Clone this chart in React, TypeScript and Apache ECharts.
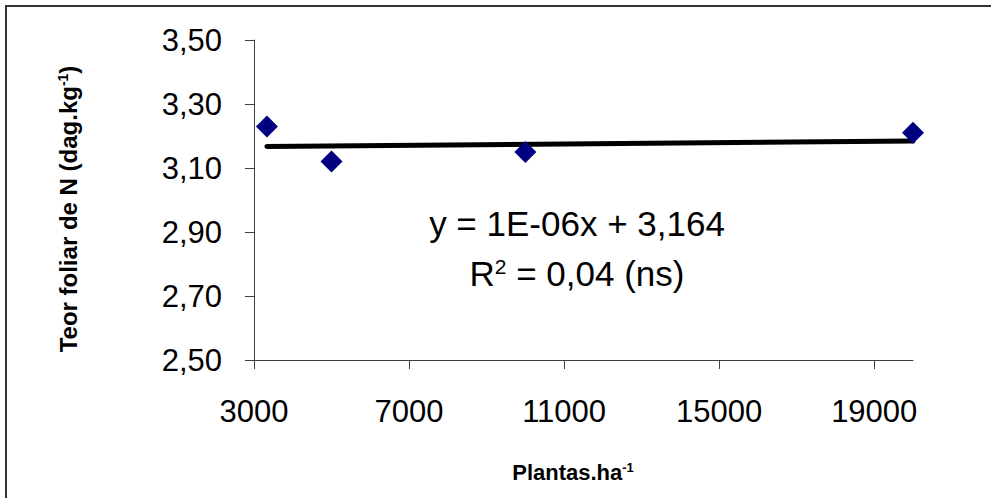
import React, { useEffect, useRef } from "react";
import * as echarts from "echarts";

// Data
const densities = [3333, 5000, 10000, 20000]; // Plantas.ha-1
const nitrogen = [3.23, 3.12, 3.15, 3.21]; // Teor foliar de N (dag.kg-1)
const trendSlope = 1e-6;
const trendIntercept = 3.164;
const xTickValues = [3000, 7000, 11000, 15000, 19000];
const yTickValues = [2.5, 2.7, 2.9, 3.1, 3.3, 3.5];
const xRange = [3000, 20000];
const yRange = [2.5, 3.5];
const equationText = "y = 1E-06x + 3,164";
const r2Value = "0,04 (ns)";

const FONT = "Liberation Sans, Arial, sans-serif";

export default function App() {
  const ref = useRef<HTMLDivElement>(null);

  useEffect(() => {
    document.body.style.margin = "0";
    if (!ref.current) return;
    const chart = echarts.init(ref.current, null, { renderer: "svg" });

    const xMin = Math.min(...densities);
    const xMax = Math.max(...densities);
    const trend = [
      [xMin, trendSlope * xMin + trendIntercept],
      [xMax, trendSlope * xMax + trendIntercept],
    ];

    const axisColor = "#404040";

    chart.setOption({
      animation: false,
      backgroundColor: "#ffffff",
      grid: {
        left: 254,
        right: 78,
        top: 40,
        bottom: 138,
        containLabel: false,
        outerBoundsMode: "none",
      },
      xAxis: {
        type: "value",
        min: xRange[0],
        max: xRange[1],
        axisLine: { show: true, onZero: false, lineStyle: { color: axisColor, width: 1 } },
        axisTick: {
          show: true,
          length: 9,
          customValues: xTickValues,
          lineStyle: { color: axisColor },
        },
        axisLabel: {
          customValues: xTickValues,
          margin: 36,
          fontSize: 31,
          fontFamily: FONT,
          color: "#000",
          formatter: (v: number) => String(v),
        },
        splitLine: { show: false },
      },
      yAxis: {
        type: "value",
        min: yRange[0],
        max: yRange[1],
        axisLine: { show: true, onZero: false, lineStyle: { color: axisColor, width: 1 } },
        axisTick: {
          show: true,
          length: 9,
          customValues: yTickValues,
          lineStyle: { color: axisColor },
        },
        axisLabel: {
          customValues: yTickValues,
          margin: 32,
          fontSize: 31,
          fontFamily: FONT,
          color: "#000",
          formatter: (v: number) => v.toFixed(2).replace(".", ","),
        },
        splitLine: { show: false },
      },
      series: [
        {
          type: "line",
          data: trend,
          symbol: "none",
          lineStyle: { color: "#000", width: 5, cap: "round" },
          z: 2,
        },
        {
          type: "scatter",
          data: densities.map((d, i) => [d, nitrogen[i]]),
          symbol: "diamond",
          symbolSize: 22,
          itemStyle: { color: "#000080", opacity: 1 },
          z: 3,
        },
      ],
      graphic: [
        {
          type: "rect",
          shape: { x: 6, y: 6, width: 1100, height: 700 },
          style: { fill: "none", stroke: "#333", lineWidth: 2 },
          silent: true,
          z: -1,
        },
        {
          type: "text",
          x: 577,
          y: 223,
          style: {
            text: equationText,
            fontSize: 35,
            fontFamily: FONT,
            fill: "#000",
            align: "center",
            verticalAlign: "middle",
          },
        },
        {
          type: "text",
          x: 577,
          y: 273,
          style: {
            text: "{n|R}{s|2}{n| = " + r2Value + "}",
            fontFamily: FONT,
            fill: "#000",
            align: "center",
            verticalAlign: "middle",
            rich: {
              n: { fontSize: 35, fontFamily: FONT, fill: "#000", verticalAlign: "bottom" },
              s: { fontSize: 21, fontFamily: FONT, fill: "#000", verticalAlign: "top" },
            },
          },
        },
        {
          type: "text",
          x: 68,
          y: 209,
          rotation: Math.PI / 2,
          style: {
            text: "{n|Teor foliar de N (dag.kg}{s|-1}{n|)}",
            fontFamily: FONT,
            fill: "#000",
            align: "center",
            verticalAlign: "middle",
            rich: {
              n: { fontSize: 24, fontWeight: "bold", fontFamily: FONT, fill: "#000", verticalAlign: "bottom" },
              s: { fontSize: 14, fontWeight: "bold", fontFamily: FONT, fill: "#000", verticalAlign: "top" },
            },
          },
        },
        {
          type: "text",
          x: 573,
          y: 472,
          style: {
            text: "{n|Plantas.ha}{s|-1}",
            fontFamily: FONT,
            fill: "#000",
            align: "center",
            verticalAlign: "middle",
            rich: {
              n: { fontSize: 22, fontWeight: "bold", fontFamily: FONT, fill: "#000", verticalAlign: "bottom" },
              s: { fontSize: 13, fontWeight: "bold", fontFamily: FONT, fill: "#000", verticalAlign: "top" },
            },
          },
        },
      ],
    });

    return () => chart.dispose();
  }, []);

  return <div ref={ref} style={{ width: 991, height: 498 }} />;
}
